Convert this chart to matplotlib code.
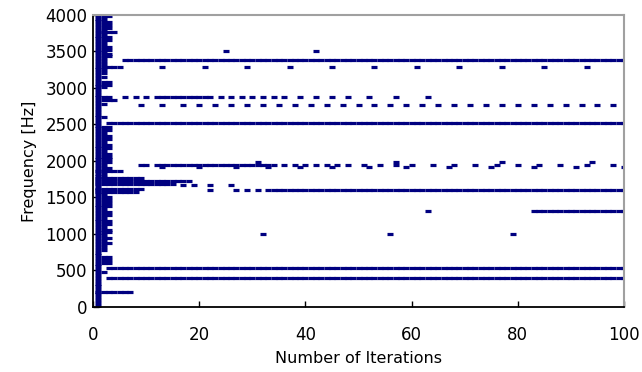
import matplotlib
matplotlib.use("Agg")
import matplotlib.pyplot as plt

# peaks found at the first iterations (Hz)
iter1_freqs = [15, 55, 90, 130, 170, 205, 245, 285, 320, 360, 400, 440, 475, 515,
               555, 590, 630, 670, 710, 745, 785, 825, 860, 900, 940, 980, 1015,
               1055, 1095, 1130, 1170, 1210, 1250, 1285, 1325, 1365, 1400, 1440,
               1480, 1520, 1555, 1595, 1635, 1670, 1710, 1750, 1790, 1825, 1865,
               1905, 1940, 1980, 2020, 2060, 2095, 2135, 2175, 2210, 2250, 2290,
               2330, 2365, 2405, 2445, 2480, 2520, 2560, 2600, 2635, 2675, 2715,
               2750, 2790, 2830, 2870, 2905, 2945, 2985, 3020, 3060, 3100, 3140,
               3175, 3215, 3255, 3290, 3330, 3370, 3410, 3445, 3485, 3525, 3560,
               3600, 3640, 3680, 3715, 3755, 3795, 3830, 3870, 3910, 3950, 3985]
iter2_freqs = [3985, 3945, 3905, 3860, 3820, 3780, 3740, 3700, 3655, 3615, 3575,
               3535, 3490, 3450, 3410, 3370, 3330, 3240, 3200, 3150, 3080, 3040,
               3010, 2880, 2780, 2600, 2460, 2420, 2380, 2340, 2300, 2260, 2220,
               2180, 2140, 2100, 2060, 2020, 1980, 1940, 1900, 1820, 1780, 1540,
               1500, 1460, 1420, 1380, 1340, 1300, 1260, 1220, 1180, 1140, 1100,
               1060, 1020, 980, 940, 900, 860, 820, 780, 680, 640, 600, 475]
iter3_freqs = [3985, 3900, 3860, 3820, 3700, 3660, 3560, 3520, 3470, 3430, 3080,
               3040, 2880, 2460, 2420, 2340, 2300, 2220, 2180, 2100, 2060, 2020,
               1980, 1900, 1500, 1460, 1420, 1380, 1300, 1260, 1180, 1140, 1060,
               1020, 950, 870, 680, 640, 600]

# continuous tracks: (frequency, first iteration, last iteration)
tracks = [(3760, 2, 4), (3380, 6, 100), (3290, 2, 5), (2880, 12, 22),
          (2835, 2, 4), (2520, 3, 100), (1945, 9, 10), (1945, 12, 34),
          (1860, 1, 5), (1760, 1, 9), (1730, 1, 18), (1680, 1, 15),
          (1620, 1, 9), (1580, 1, 8), (1600, 33, 100), (1310, 83, 100),
          (530, 3, 100), (400, 3, 100), (205, 1, 7)]

# isolated detections: frequency -> iterations
dashes = {
    3510: [25, 42],
    3290: [13, 21, 29, 37, 45, 53, 61, 69, 77, 85, 93],
    2880: [6, 8, 10, 24, 26, 28, 30, 32, 34, 36, 39, 42, 45, 48, 52, 57, 63],
    2760: [9, 13, 17, 20, 23, 26, 29, 32, 35, 38, 41, 44, 47, 50, 53, 56, 59,
           62, 65, 68, 71, 74, 77, 80, 83, 86, 89, 92, 95, 98],
    1990: [31, 57, 77, 94],
    1945: [36, 38, 40, 42, 44, 46, 48, 51, 54, 57, 60, 64, 68, 72, 76, 80, 84,
           88, 93, 98],
    1910: [13, 20, 27, 33, 39, 45, 52, 59, 67, 75, 83, 91, 100],
    1670: [17, 19, 22, 26],
    1600: [22, 27, 29, 31],
    1310: [63],
    1000: [32, 56, 79],
}

xs, ys = [], []
for it, fl in [(1, iter1_freqs), (2, iter2_freqs), (3, iter3_freqs)]:
    for f in fl:
        xs.append(it)
        ys.append(f)
for f, a, b in tracks:
    for it in range(a, b + 1):
        xs.append(it)
        ys.append(f)
for f, its in dashes.items():
    for it in its:
        xs.append(it)
        ys.append(f)

fig = plt.figure(figsize=(6.42, 3.72), dpi=100)
ax = fig.add_axes([0.145, 0.175, 0.827, 0.785])
ax.plot(xs, ys, linestyle="none", marker="_", markersize=4.2,
        markeredgewidth=2.3, color="#000080")

ax.set_xlim(0, 100)
ax.set_ylim(0, 4000)
ax.set_xticks([0, 20, 40, 60, 80, 100])
ax.set_yticks(range(0, 4001, 500))
ax.tick_params(axis="both", direction="in", length=4, width=1, labelsize=12)
ax.tick_params(axis="x", pad=14)
ax.tick_params(axis="y", pad=4)
for s in ["top", "right"]:
    ax.spines[s].set_color("#a0a0a0")
    ax.spines[s].set_linewidth(1.5)
for s in ["left", "bottom"]:
    ax.spines[s].set_color("black")
    ax.spines[s].set_linewidth(1.3)

ax.set_xlabel("Number of Iterations", fontsize=11.5, labelpad=5)
ax.set_ylabel("Frequency [Hz]", fontsize=11.5, labelpad=6)

plt.savefig("out.png", dpi=100)
